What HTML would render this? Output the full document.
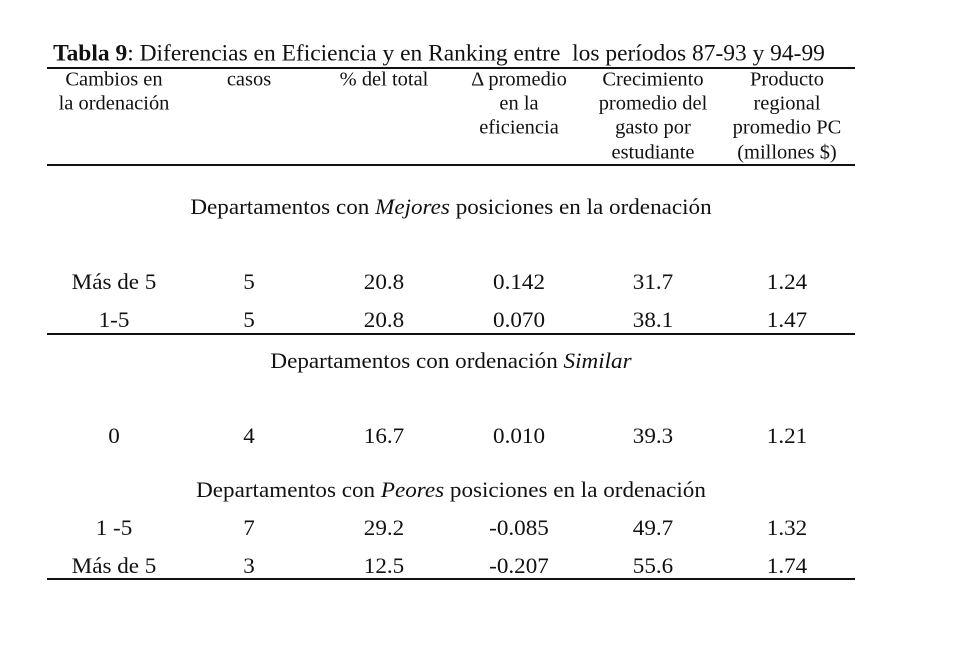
<!DOCTYPE html>
<html><head><meta charset="utf-8"><style>
html,body{margin:0;padding:0;background:#fff;}
body{width:958px;height:646px;position:relative;overflow:hidden;font-family:"Liberation Serif",serif;color:#111;}
.t{position:absolute;white-space:nowrap;transform:translate(-50%,-50%) scaleX(1.05);line-height:1;}
.h{font-size:19.5px;}
.d{font-size:22px;}
.s{font-size:22px;}
.l{position:absolute;height:1.5px;background:#111;}
</style></head><body>
<div class="t" style="left:439px;top:53px;font-size:23px;transform:translate(-50%,-50%) scaleX(1.02)"><b>Tabla 9</b>: Diferencias en Eficiencia y en Ranking entre&nbsp; los períodos 87-93 y 94-99</div>
<div class="l" style="left:47px;width:808px;top:67px"></div>

<div class="t h" style="left:114px;top:80px">Cambios en</div>
<div class="t h" style="left:114px;top:104px">la ordenación</div>
<div class="t h" style="left:249px;top:80px">casos</div>
<div class="t h" style="left:384px;top:80px">% del total</div>
<div class="t h" style="left:519px;top:80px">Δ promedio</div>
<div class="t h" style="left:519px;top:104px">en la</div>
<div class="t h" style="left:519px;top:128px">eficiencia</div>
<div class="t h" style="left:653px;top:80px">Crecimiento</div>
<div class="t h" style="left:653px;top:104px">promedio del</div>
<div class="t h" style="left:653px;top:128px">gasto por</div>
<div class="t h" style="left:653px;top:153px">estudiante</div>
<div class="t h" style="left:787px;top:80px">Producto</div>
<div class="t h" style="left:787px;top:104px">regional</div>
<div class="t h" style="left:787px;top:128px">promedio PC</div>
<div class="t h" style="left:787px;top:153px">(millones $)</div>
<div class="l" style="left:47px;width:808px;top:164px"></div>

<div class="t s" style="left:451px;top:207px">Departamentos con <i>Mejores</i> posiciones en la ordenación</div>

<div class="t d" style="left:114px;top:282px">Más de 5</div><div class="t d" style="left:249px;top:282px">5</div><div class="t d" style="left:384px;top:282px">20.8</div><div class="t d" style="left:519px;top:282px">0.142</div><div class="t d" style="left:653px;top:282px">31.7</div><div class="t d" style="left:787px;top:282px">1.24</div>
<div class="t d" style="left:114px;top:320px">1-5</div><div class="t d" style="left:249px;top:320px">5</div><div class="t d" style="left:384px;top:320px">20.8</div><div class="t d" style="left:519px;top:320px">0.070</div><div class="t d" style="left:653px;top:320px">38.1</div><div class="t d" style="left:787px;top:320px">1.47</div>
<div class="l" style="left:47px;width:808px;top:333px"></div>

<div class="t s" style="left:451px;top:361px">Departamentos con ordenación <i>Similar</i></div>

<div class="t d" style="left:114px;top:436px">0</div><div class="t d" style="left:249px;top:436px">4</div><div class="t d" style="left:384px;top:436px">16.7</div><div class="t d" style="left:519px;top:436px">0.010</div><div class="t d" style="left:653px;top:436px">39.3</div><div class="t d" style="left:787px;top:436px">1.21</div>

<div class="t s" style="left:451px;top:490px">Departamentos con <i>Peores</i> posiciones en la ordenación</div>

<div class="t d" style="left:114px;top:528px">1 -5</div><div class="t d" style="left:249px;top:528px">7</div><div class="t d" style="left:384px;top:528px">29.2</div><div class="t d" style="left:519px;top:528px">-0.085</div><div class="t d" style="left:653px;top:528px">49.7</div><div class="t d" style="left:787px;top:528px">1.32</div>
<div class="t d" style="left:114px;top:566px">Más de 5</div><div class="t d" style="left:249px;top:566px">3</div><div class="t d" style="left:384px;top:566px">12.5</div><div class="t d" style="left:519px;top:566px">-0.207</div><div class="t d" style="left:653px;top:566px">55.6</div><div class="t d" style="left:787px;top:566px">1.74</div>
<div class="l" style="left:47px;width:808px;top:578px"></div>
</body></html>
